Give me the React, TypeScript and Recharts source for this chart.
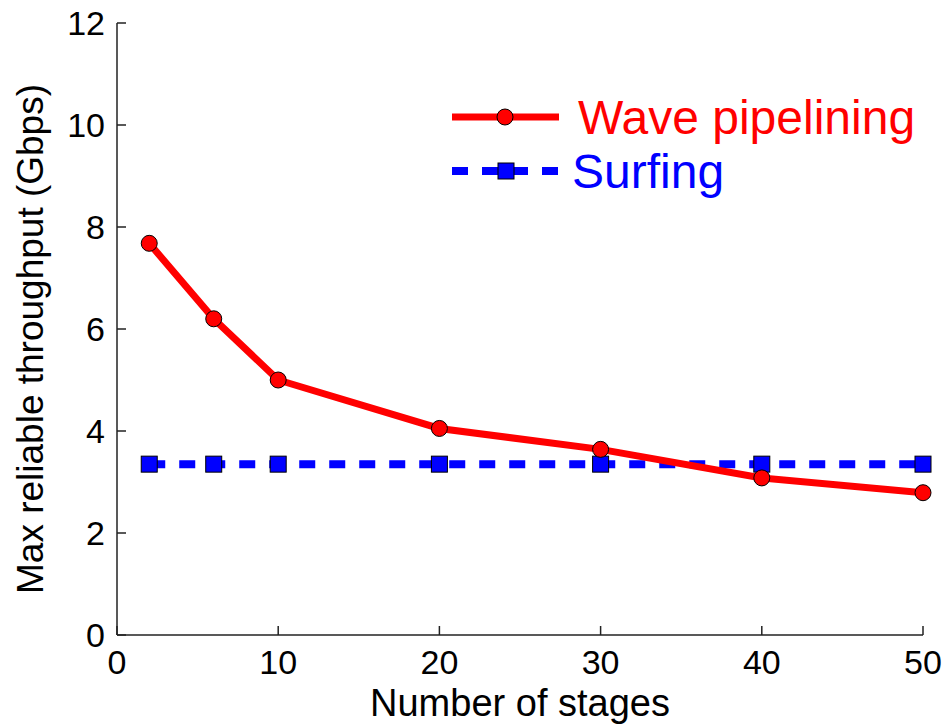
import React from 'react';
import { LineChart, Line, XAxis, YAxis, Legend } from 'recharts';

const stages = [2, 6, 10, 20, 30, 40, 50];
const wavePipelining = [7.68, 6.2, 5.0, 4.05, 3.64, 3.08, 2.79];
const surfing = [3.35, 3.35, 3.35, 3.35, 3.35, 3.35, 3.35];
const xTicks = [0, 10, 20, 30, 40, 50];
const yTicks = [0, 2, 4, 6, 8, 10, 12];

const data = stages.map((s, i) => ({ stages: s, wave: wavePipelining[i], surf: surfing[i] }));

const FONT = '"Liberation Sans", Arial, sans-serif';
const RED = '#FF0000';
const BLUE = '#0000FF';
const AXIS = '#222';

const XTick = (props: any) => {
  const { x, y, payload } = props;
  return (
    <g>
      <line x1={x} x2={x} y1={y} y2={y - 9} stroke={AXIS} strokeWidth={1.5} />
      <text x={x} y={y + 39} textAnchor="middle" fontSize={34} fontFamily={FONT} fill="#000">
        {payload.value}
      </text>
    </g>
  );
};

const YTick = (props: any) => {
  const { x, y, payload } = props;
  return (
    <g>
      <line x1={x} x2={x + 9} y1={y} y2={y} stroke={AXIS} strokeWidth={1.5} />
      <text x={x - 12} y={y + 12} textAnchor="end" fontSize={34} fontFamily={FONT} fill="#000">
        {payload.value}
      </text>
    </g>
  );
};

const CircleDot = (props: any) => {
  const { cx, cy } = props;
  if (cx == null || cy == null) return null;
  return <circle cx={cx} cy={cy} r={8} fill={RED} stroke="#000" strokeWidth={1} />;
};

const SquareDot = (props: any) => {
  const { cx, cy } = props;
  if (cx == null || cy == null) return null;
  return <rect x={cx - 8} y={cy - 8} width={16} height={16} fill={BLUE} stroke="#000" strokeWidth={1} />;
};

const LegendBox = () => (
  <svg width={480} height={120} style={{ display: 'block' }}>
    <line x1={2} x2={109} y1={32} y2={32} stroke={RED} strokeWidth={7} />
    <circle cx={55} cy={32} r={8} fill={RED} stroke="#000" strokeWidth={1} />
    <text x={128} y={49} fontSize={48} fontFamily={FONT} fill={RED}>Wave pipelining</text>
    <line x1={2} x2={109} y1={86} y2={86} stroke={BLUE} strokeWidth={8} strokeDasharray="16 14" />
    <rect x={48} y={78} width={16} height={16} fill={BLUE} stroke="#000" strokeWidth={1} />
    <text x={122} y={103} fontSize={48} fontFamily={FONT} fill={BLUE}>Surfing</text>
  </svg>
);

export default function App() {
  return (
    <div style={{ position: 'absolute', top: 0, left: 0, width: 948, height: 726, background: '#fff' }}>
      <LineChart width={948} height={726} data={data} margin={{ top: 23, right: 25, bottom: 0, left: 0 }}>
        <XAxis
          dataKey="stages"
          type="number"
          domain={[0, 50]}
          ticks={xTicks}
          height={91}
          tickSize={0}
          tickMargin={0}
          tickLine={false}
          tick={<XTick />}
          axisLine={{ stroke: AXIS, strokeWidth: 1.5 }}
          label={{
            content: (p: any) => {
              const vb = p.viewBox;
              return (
                <text x={vb.x + vb.width / 2} y={716} textAnchor="middle" fontSize={38} fontFamily={FONT} fill="#000">
                  Number of stages
                </text>
              );
            },
          }}
        />
        <YAxis
          type="number"
          domain={[0, 12]}
          ticks={yTicks}
          width={117}
          tickSize={0}
          tickMargin={0}
          tickLine={false}
          tick={<YTick />}
          axisLine={{ stroke: AXIS, strokeWidth: 1.5 }}
          label={{
            content: (p: any) => {
              const vb = p.viewBox;
              const cy = vb.y + vb.height / 2 + 10;
              return (
                <text
                  x={43}
                  y={cy}
                  transform={`rotate(-90, 43, ${cy})`}
                  textAnchor="middle"
                  fontSize={37}
                  fontFamily={FONT}
                  fill="#000"
                >
                  Max reliable throughput (Gbps)
                </text>
              );
            },
          }}
        />
        <Legend
          layout="vertical"
          align="center"
          verticalAlign="middle"
          content={() => <LegendBox />}
          wrapperStyle={{ top: 85, left: 450, width: 480, height: 120 }}
        />
        <Line
          dataKey="surf"
          stroke={BLUE}
          strokeWidth={8}
          strokeDasharray="16 14"
          dot={<SquareDot />}
          activeDot={false}
          isAnimationActive={false}
        />
        <Line
          dataKey="wave"
          stroke={RED}
          strokeWidth={7}
          dot={<CircleDot />}
          activeDot={false}
          isAnimationActive={false}
        />
      </LineChart>
    </div>
  );
}
